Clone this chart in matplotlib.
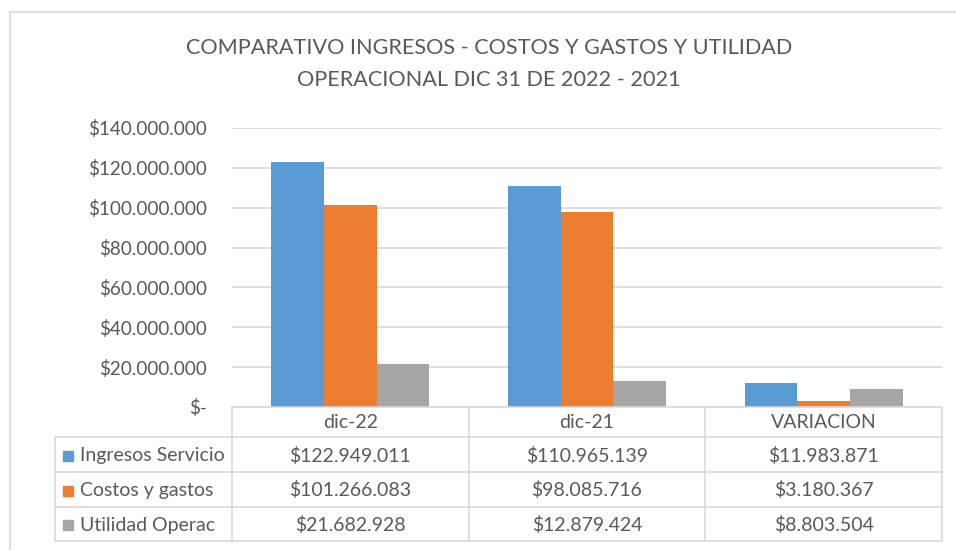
import matplotlib.pyplot as plt
import matplotlib.ticker as ticker
from matplotlib.patches import Rectangle

plt.rcParams["font.family"] = ["Lato", "DejaVu Sans"]

# ── Data ───────────────────────────────────────────────────────────────────────
categories = ["dic-22", "dic-21", "VARIACION"]
series_names = ["Ingresos Servicio", "Costos y gastos", "Utilidad Operac"]
ingresos = [122949011, 110965139, 11983871]
costos = [101266083, 98085716, 3180367]
utilidad = [21682928, 12879424, 8803504]
series_values = [ingresos, costos, utilidad]

# ── Colours ────────────────────────────────────────────────────────────────────
COLORS = ["#5B9BD5", "#ED7D31", "#A5A5A5"]
TEXT = "#595959"
GRID = "#D9D9D9"

W, H = 956, 550


def fx(px):
    return px / W


def fy(py):
    return 1 - py / H


fig = plt.figure(figsize=(W / 100, H / 100), dpi=100, facecolor="white")

# outer chart border
fig.patches.append(Rectangle((fx(10), fy(560)), fx(960) - fx(10), fy(12) - fy(560),
                             transform=fig.transFigure, fill=False,
                             edgecolor=GRID, linewidth=1.2))

fig.text(fx(489), fy(48), "COMPARATIVO INGRESOS - COSTOS Y GASTOS Y UTILIDAD",
         ha="center", va="center", fontsize=15.6, color=TEXT)
fig.text(fx(489), fy(80), "OPERACIONAL DIC 31 DE 2022 - 2021",
         ha="center", va="center", fontsize=15.6, color=TEXT)

# ── Bar area ───────────────────────────────────────────────────────────────────
PL, PR, PT, PB = 232, 942, 128, 407
ax = fig.add_axes([fx(PL), fy(PB), fx(PR) - fx(PL), fy(PT) - fy(PB)])
n = len(series_values)
bar_w = 1 / (n + 1.5)
for i, (vals, col) in enumerate(zip(series_values, COLORS)):
    xs = [c + (i - (n - 1) / 2) * bar_w for c in range(len(categories))]
    ax.bar(xs, vals, width=bar_w, color=col, zorder=2)

ax.set_xlim(-0.5, len(categories) - 0.5)
ax.set_ylim(0, 140_000_000)
ax.yaxis.set_major_locator(ticker.MultipleLocator(20_000_000))


def money(v, pos=None):
    if v == 0:
        return "$-"
    return "$" + f"{int(round(v)):,}".replace(",", ".")


ax.yaxis.set_major_formatter(ticker.FuncFormatter(money))
ax.tick_params(axis="y", length=0, pad=18, labelsize=13.6, labelcolor=TEXT)
ax.set_xticks([])
ax.yaxis.grid(True, color=GRID, linewidth=1.2, zorder=0)
ax.set_axisbelow(True)
for s in ax.spines.values():
    s.set_visible(False)

# ── Data table below bars ──────────────────────────────────────────────────────
TL, TB = 55, 541
row_edges = [407, 437, 472, 507, 541]
tab = fig.add_axes([fx(TL), fy(TB), fx(PR) - fx(TL), fy(PB) - fy(TB)])
unit = (PR - PL) / len(categories)
left_x = -0.5 - (PL - TL) / unit
tab.set_xlim(left_x, len(categories) - 0.5)
tab.set_ylim(row_edges[-1], row_edges[0])
tab.axis("off")

lw = 1.2
col_edges = [c - 0.5 for c in range(len(categories) + 1)]
# top line + column separators
tab.plot([col_edges[0], col_edges[-1]], [row_edges[0]] * 2, color=GRID, lw=lw, clip_on=False)
for xe in col_edges:
    tab.plot([xe, xe], [row_edges[0], row_edges[-1]], color=GRID, lw=lw, clip_on=False)
tab.plot([left_x, left_x], [row_edges[1], row_edges[-1]], color=GRID, lw=lw, clip_on=False)
for ye in row_edges[1:]:
    tab.plot([left_x, col_edges[-1]], [ye, ye], color=GRID, lw=lw, clip_on=False)

hdr_y = (row_edges[0] + row_edges[1]) / 2
for c, name in enumerate(categories):
    tab.text(c, hdr_y + 1, name, ha="center", va="center", fontsize=14, color=TEXT)

for r, (name, vals, col) in enumerate(zip(series_names, series_values, COLORS)):
    yc = (row_edges[r + 1] + row_edges[r + 2]) / 2 + 1
    tab.add_patch(Rectangle((left_x + 8 / unit, yc - 5), 9.5 / unit, 10,
                            color=col, clip_on=False))
    tab.text(left_x + 25 / unit, yc, name, ha="left", va="center",
             fontsize=14, color=TEXT)
    for c, v in enumerate(vals):
        tab.text(c, yc, money(v), ha="center", va="center", fontsize=14, color=TEXT)

fig.savefig("out.png", dpi=100, facecolor="white")
